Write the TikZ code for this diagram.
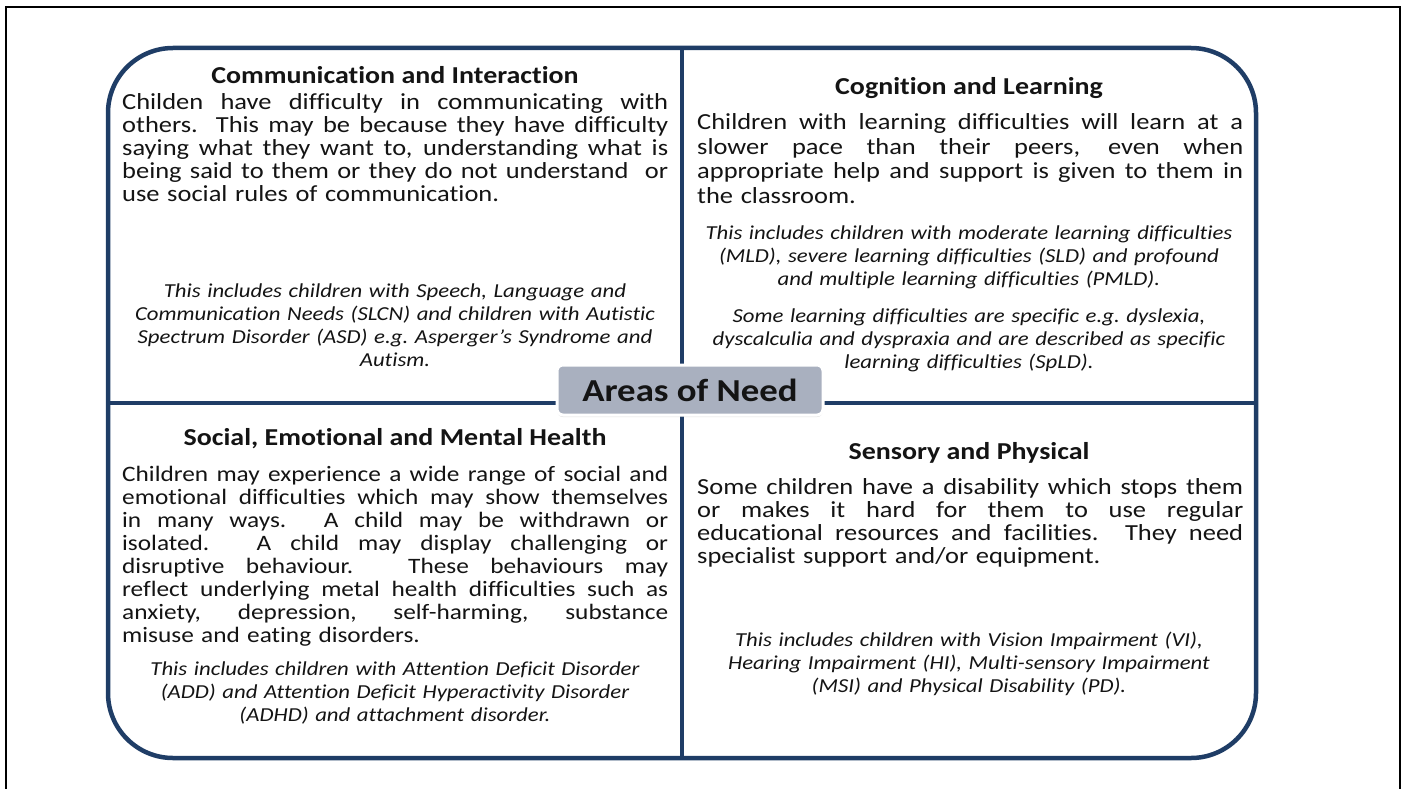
\documentclass[tikz,border=0pt]{standalone}
\usepackage{fontspec}
\setmainfont{Carlito}[FakeStretch=1.15, Ligatures=NoCommon]
\usepackage{tikz}
\usetikzlibrary{positioning, shadows}
\definecolor{needblue}{HTML}{1F3D66}
\definecolor{needgrey}{HTML}{A9B0BF}
\definecolor{inkblack}{HTML}{141414}
\newlength{\jwidth}
\setlength{\jwidth}{546pt}
\newcommand{\jline}[1]{\makebox[\jwidth][s]{\spaceskip=0pt\xspaceskip=0pt #1}\\}
\tikzstyle{divider} = [line width=4.5pt, draw=needblue]
\tikzstyle{heading} = [anchor=base, inner sep=0pt, text=inkblack, font=\fontsize{24.3}{26}\selectfont\bfseries]
\tikzstyle{bodytext} = [anchor=base west, inner sep=0pt, text width=546pt, align=left, text=inkblack, font=\fontsize{23}{23}\selectfont]
\tikzstyle{widetext} = [bodytext, font=\fontsize{23}{24.5}\selectfont]
\tikzstyle{smalltext} = [bodytext, font=\fontsize{22}{23}\selectfont]
\tikzstyle{note} = [anchor=base, inner sep=0pt, text width=546pt, align=center, text=inkblack, font=\fontsize{19.8}{23}\selectfont\itshape]

\begin{document}
\begin{tikzpicture}[x=1pt, y=-1pt]
  \useasboundingbox (0,0) rectangle (1405,789);

  % page frame
  \coordinate (frameBL) at (6,789);
  \coordinate (frameTL) at (6,7);
  \coordinate (frameTR) at (1400,7);
  \coordinate (frameBR) at (1400,789);
  \draw[line width=1.5pt] (frameBL) -- (frameTL) -- (frameTR) -- (frameBR);

  % the four quarters
  \coordinate (boxNW) at (108,48);
  \coordinate (boxSE) at (1256,758);
  \coordinate (midN) at (682,48);
  \coordinate (midS) at (682,758);
  \coordinate (midW) at (108,403);
  \coordinate (midE) at (1256,403);
  \fill[white] (boxNW) rectangle (boxSE);
  \draw[divider] (midN) -- (midS);
  \draw[divider] (midW) -- (midE);
  \draw[divider, rounded corners=65pt] (boxNW) rectangle (boxSE);

  % communication and interaction
  \node[heading] (commTitle) at (395,84) {Communication and Interaction};
  \node[bodytext] (commText) at (122,110) {%
    \jline{Childen have difficulty in communicating with}
    \jline{others.  This may be because they have difficulty}
    \jline{saying what they want to, understanding what is}
    \jline{being said to them or they do not understand \ or}
    use social rules of communication.};
  \node[note] (commNote) at (395,297) {This includes children with Speech, Language and\\
    Communication Needs (SLCN) and children with Autistic\\
    Spectrum Disorder (ASD) e.g.\ Asperger’s Syndrome and\\
    Autism.};

  % cognition and learning
  \node[heading] (cogTitle) at (969,95) {Cognition and Learning};
  \node[widetext] (cogText) at (697,130) {%
    \jline{Children with learning difficulties will learn at a}
    \jline{slower pace than their peers, even when}
    \jline{appropriate help and support is given to them in}
    the classroom.};
  \node[note] (cogNote) at (969,239) {This includes children with moderate learning difficulties\\
    (MLD), severe learning difficulties (SLD) and profound\\
    and multiple learning difficulties (PMLD).};
  \node[note] (cogNoteTwo) at (969,322) {Some learning difficulties are specific e.g.\ dyslexia,\\
    dyscalculia and dyspraxia and are described as specific\\
    learning difficulties (SpLD).};

  % social, emotional and mental health
  \node[heading] (semhTitle) at (395,445) {Social, Emotional and Mental Health};
  \node[smalltext] (semhText) at (122,481) {%
    \jline{Children may experience a wide range of social and}
    \jline{emotional difficulties which may show themselves}
    \jline{in many ways.  A child may be withdrawn or}
    \jline{isolated.  A child may display challenging or}
    \jline{disruptive behaviour.  These behaviours may}
    \jline{reflect underlying metal health difficulties such as}
    \jline{anxiety, depression, self-harming, substance}
    misuse and eating disorders.};
  \node[note] (semhNote) at (395,675) {This includes children with Attention Deficit Disorder\\
    (ADD) and Attention Deficit Hyperactivity Disorder\\
    (ADHD) and attachment disorder.};

  % sensory and physical
  \node[heading] (sensTitle) at (969,459) {Sensory and Physical};
  \node[bodytext] (sensText) at (697,494) {%
    \jline{Some children have a disability which stops them}
    \jline{or makes it hard for them to use regular}
    \jline{educational resources and facilities.  They need}
    specialist support and/or equipment.};
  \node[note] (sensNote) at (969,646) {This includes children with Vision Impairment (VI),\\
    Hearing Impairment (HI), Multi-sensory Impairment\\
    (MSI) and Physical Disability (PD).};

  % centre label
  \node[fill=needgrey, draw=white, line width=3pt, rounded corners=6pt,
        minimum width=266pt, minimum height=50pt, text=inkblack,
        drop shadow={opacity=0.25, shadow xshift=0pt, shadow yshift=-2pt},
        font=\fontsize{32}{34}\selectfont\bfseries] (areas) at (690,390) {Areas of Need};
\end{tikzpicture}
\end{document}
